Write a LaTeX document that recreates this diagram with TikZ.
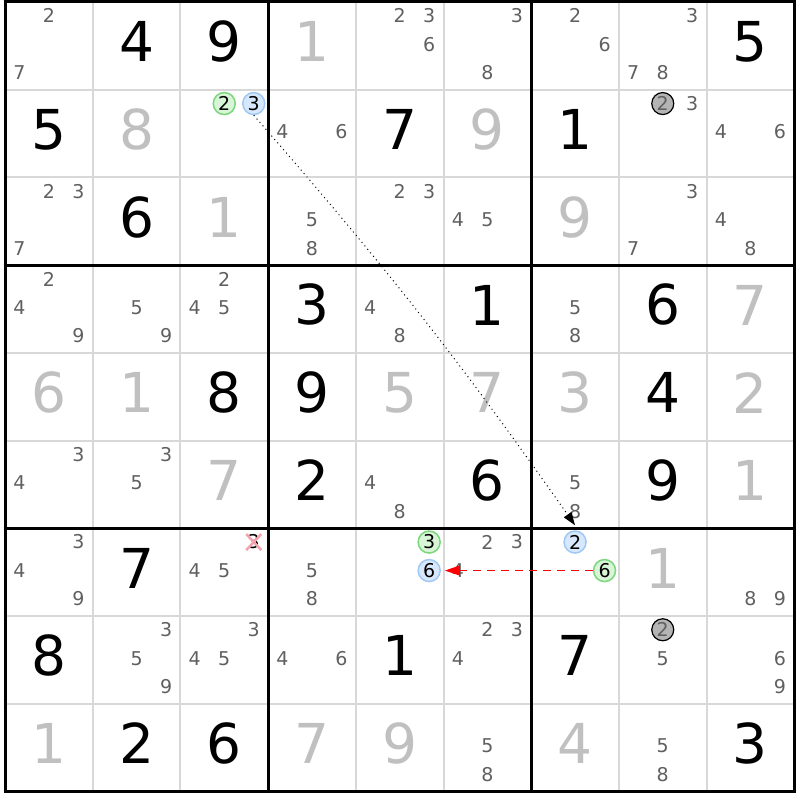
\documentclass[tikz,border=0pt]{standalone}
\usepackage{fontspec}
\setmainfont{DejaVu Sans}
\usetikzlibrary{arrows.meta}
\definecolor{gridgray}{HTML}{D8D8D8}
\definecolor{candc}{HTML}{606060}
\definecolor{givc}{HTML}{C0C0C0}
\definecolor{gfill}{HTML}{D8F5D8}
\definecolor{gline}{HTML}{7CD67C}
\definecolor{bfill}{HTML}{D8E8FC}
\definecolor{bline}{HTML}{A0C8F5}
\definecolor{xcol}{HTML}{F4A3AC}
\definecolor{grfill}{HTML}{B4B4B4}
\tikzset{
 cand/.style={inner sep=0pt, text=candc, font=\fontsize{19}{19}\selectfont},
 bigd/.style={inner sep=0pt, text=black, font=\fontsize{55}{55}\selectfont},
 pale/.style={bigd, text=givc},
 gcirc/.style={cand, circle, minimum size=22pt, draw=gline, fill=gfill, line width=1.5pt, text=black},
 bcirc/.style={cand, circle, minimum size=22pt, draw=bline, fill=bfill, line width=1.5pt, text=black},
 kcirc/.style={cand, circle, minimum size=22pt, draw=black, fill=grfill, line width=1.2pt},
 thinline/.style={draw=gridgray, line width=2pt},
 thickline/.style={draw=black, line width=3pt},
 dotlink/.style={draw=black, line width=1pt, dash pattern=on 1pt off 3.5pt, -{Triangle[length=13pt,width=9pt]}},
 redlink/.style={draw=red, line width=1.2pt, dash pattern=on 8pt off 6pt, shorten >=4pt, -{Triangle[length=15pt,width=10pt]}},
 xmark/.style={draw=xcol, line width=2.5pt},
}
\newcommand\sdkCand[3]{\foreach \d in {#3}{\node[cand] (n-#1-#2-\d) at ({5+(#2-0.5)*87.7+(mod(\d-1,3)-1)*29.5},{2+(#1-0.5)*87.7+floor((\d-1)/3)*28.5-30}) {\d};}}
\newcommand\sdkGiven[3]{\node[bigd] (g-#1-#2) at ({5+(#2-0.5)*87.7},{2+(#1-0.5)*87.7-4}) {#3};}
\newcommand\sdkPale[3]{\node[pale] (g-#1-#2) at ({5+(#2-0.5)*87.7},{2+(#1-0.5)*87.7-4}) {#3};}
\newcommand\sdkCirc[5]{\node[#1] (#2) at ({5+(#4-0.5)*87.7+(mod(#5-1,3)-1)*29.5},{2+(#3-0.5)*87.7+floor((#5-1)/3)*28.5-30}) {#5};}
\begin{document}
\begin{tikzpicture}[x=1pt,y=-1pt]
\useasboundingbox (0,0) rectangle (800,800);
\fill[white] (0,0) rectangle (800,800);
% thin grid lines
\foreach \i in {1,2,4,5,7,8}{
  \draw[thinline] ({5+\i*87.7},2) -- ({5+\i*87.7},791.3);
  \draw[thinline] (5,{2+\i*87.7}) -- (794.3,{2+\i*87.7});
}
% thick box lines
\foreach \i in {0,3,6,9}{
  \draw[thickline] ({5+\i*87.7},0.5) -- ({5+\i*87.7},792.8);
  \draw[thickline] (3.5,{2+\i*87.7}) -- (795.8,{2+\i*87.7});
}
% row 1
\sdkCand{1}{1}{2,7} \sdkGiven{1}{2}{4} \sdkGiven{1}{3}{9} \sdkPale{1}{4}{1}
\sdkCand{1}{5}{2,3,6} \sdkCand{1}{6}{3,8} \sdkCand{1}{7}{2,6} \sdkCand{1}{8}{3,7,8} \sdkGiven{1}{9}{5}
% row 2
\sdkGiven{2}{1}{5} \sdkPale{2}{2}{8}
\sdkCirc{gcirc}{c23g}{2}{3}{2} \sdkCirc{bcirc}{c23b}{2}{3}{3}
\sdkCand{2}{4}{4,6} \sdkGiven{2}{5}{7} \sdkPale{2}{6}{9} \sdkGiven{2}{7}{1}
\sdkCirc{kcirc}{c28k}{2}{8}{2} \sdkCand{2}{8}{3} \sdkCand{2}{9}{4,6}
% row 3
\sdkCand{3}{1}{2,3,7} \sdkGiven{3}{2}{6} \sdkPale{3}{3}{1} \sdkCand{3}{4}{5,8}
\sdkCand{3}{5}{2,3} \sdkCand{3}{6}{4,5} \sdkPale{3}{7}{9} \sdkCand{3}{8}{3,7} \sdkCand{3}{9}{4,8}
% row 4
\sdkCand{4}{1}{2,4,9} \sdkCand{4}{2}{5,9} \sdkCand{4}{3}{2,4,5} \sdkGiven{4}{4}{3}
\sdkCand{4}{5}{4,8} \sdkGiven{4}{6}{1} \sdkCand{4}{7}{5,8} \sdkGiven{4}{8}{6} \sdkPale{4}{9}{7}
% row 5
\sdkPale{5}{1}{6} \sdkPale{5}{2}{1} \sdkGiven{5}{3}{8} \sdkGiven{5}{4}{9} \sdkPale{5}{5}{5}
\sdkPale{5}{6}{7} \sdkPale{5}{7}{3} \sdkGiven{5}{8}{4} \sdkPale{5}{9}{2}
% row 6
\sdkCand{6}{1}{3,4} \sdkCand{6}{2}{3,5} \sdkPale{6}{3}{7} \sdkGiven{6}{4}{2}
\sdkCand{6}{5}{4,8} \sdkGiven{6}{6}{6} \sdkCand{6}{7}{5,8} \sdkGiven{6}{8}{9} \sdkPale{6}{9}{1}
% row 7
\sdkCand{7}{1}{3,4,9} \sdkGiven{7}{2}{7} \sdkCand{7}{3}{4,5}
\node[cand, text=black] (x73) at ({5+2.5*87.7+29.5},{2+6.5*87.7-30}) {3};
\draw[xmark] ([xshift=-7.5pt,yshift=8pt]x73.center) -- ([xshift=7.5pt,yshift=-8pt]x73.center);
\draw[xmark] ([xshift=-7.5pt,yshift=-8pt]x73.center) -- ([xshift=7.5pt,yshift=8pt]x73.center);
\sdkCand{7}{4}{5,8}
\sdkCirc{gcirc}{c75g}{7}{5}{3} \sdkCirc{bcirc}{c75b}{7}{5}{6}
\sdkCand{7}{6}{2,3,4}
\sdkCirc{bcirc}{c77b}{7}{7}{2} \sdkCirc{gcirc}{c77g}{7}{7}{6}
\sdkPale{7}{8}{1} \sdkCand{7}{9}{8,9}
% row 8
\sdkGiven{8}{1}{8} \sdkCand{8}{2}{3,5,9} \sdkCand{8}{3}{3,4,5} \sdkCand{8}{4}{4,6}
\sdkGiven{8}{5}{1} \sdkCand{8}{6}{2,3,4} \sdkGiven{8}{7}{7}
\sdkCirc{kcirc}{c88k}{8}{8}{2} \sdkCand{8}{8}{5} \sdkCand{8}{9}{6,9}
% row 9
\sdkPale{9}{1}{1} \sdkGiven{9}{2}{2} \sdkGiven{9}{3}{6} \sdkPale{9}{4}{7} \sdkPale{9}{5}{9}
\sdkCand{9}{6}{5,8} \sdkPale{9}{7}{4} \sdkCand{9}{8}{5,8} \sdkGiven{9}{9}{3}
% links
\draw[dotlink] (c23b.south) to[bend left=3] ([yshift=5pt]c77b.north);
\draw[redlink] (c77g) -- (c75b);
\end{tikzpicture}
\end{document}
